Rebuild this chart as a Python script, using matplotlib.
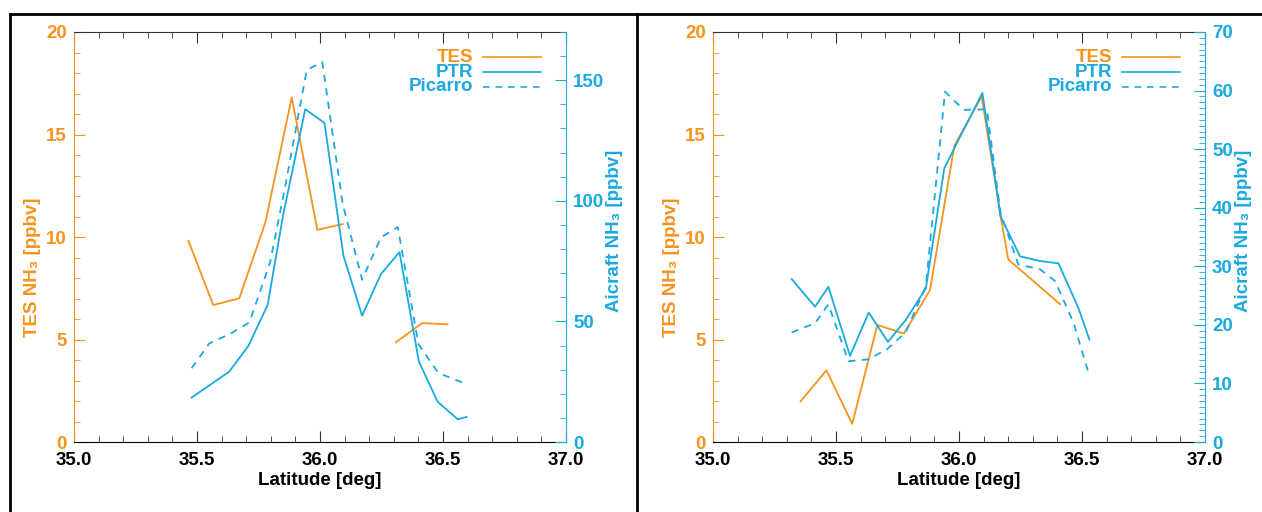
import matplotlib
matplotlib.use('Agg')
import matplotlib.pyplot as plt
from matplotlib.lines import Line2D
from matplotlib.ticker import MultipleLocator, FormatStrFormatter
import numpy as np

plt.rcParams['font.family'] = ['Liberation Sans', 'DejaVu Sans']
plt.rcParams['font.weight'] = 'bold'

ORANGE = '#F7931E'
BLUE = '#1AA9E1'

# ---- left panel data ----
tes_lat_a = [35.465, 35.566, 35.672, 35.778, 35.885, 35.989, 36.092, np.nan, 36.308, 36.415, 36.518]
tes_val_a = [9.81, 6.68, 7.01, 10.72, 16.81, 10.35, 10.63, np.nan, 4.86, 5.80, 5.74]
ptr_lat_a = [35.478, 35.566, 35.631, 35.709, 35.787, 35.851, 35.940, 36.018, 36.095, 36.171,
             36.248, 36.323, 36.402, 36.478, 36.560, 36.596]
ptr_val_a = [18.4, 24.6, 29.2, 39.9, 56.8, 94.6, 138.0, 132.3, 77.3, 52.4,
             69.7, 78.7, 33.3, 16.7, 9.4, 10.4]
pic_lat_a = [35.478, 35.550, 35.634, 35.713, 35.797, 35.858, 35.946, 36.009, 36.092, 36.171,
             36.248, 36.316, 36.400, 36.481, 36.583]
pic_val_a = [30.6, 40.9, 44.8, 49.6, 74.5, 105.7, 154.2, 157.6, 98.8, 67.3,
             84.9, 89.1, 40.6, 28.6, 24.5]

# ---- right panel data ----
tes_lat_b = [35.356, 35.461, 35.566, 35.668, 35.776, 35.882, 35.981, 36.092, 36.169, 36.200, 36.411]
tes_val_b = [1.98, 3.50, 0.88, 5.71, 5.29, 7.41, 14.45, 16.85, 11.0, 8.91, 6.72]
ptr_lat_b = [35.320, 35.415, 35.469, 35.557, 35.633, 35.711, 35.783, 35.865, 35.940, 35.991,
             36.095, 36.169, 36.248, 36.329, 36.404, 36.485, 36.530]
ptr_val_b = [27.8, 23.1, 26.5, 14.7, 22.1, 17.1, 20.8, 26.2, 46.7, 51.0,
             59.6, 38.5, 31.7, 30.9, 30.5, 22.9, 17.5]
pic_lat_b = [35.320, 35.415, 35.469, 35.550, 35.629, 35.706, 35.783, 35.865, 35.943, 36.020,
             36.113, 36.169, 36.241, 36.329, 36.390, 36.465, 36.530]
pic_val_b = [18.7, 20.3, 23.5, 13.8, 14.1, 15.8, 18.7, 26.6, 59.8, 56.7,
             56.8, 39.1, 30.3, 29.5, 27.5, 20.4, 11.3]

legend_names = ['TES', 'PTR', 'Picarro']

fig = plt.figure(figsize=(12.62, 5.12), dpi=100)


def panel(left, tes_lat, tes_val, ptr_lat, ptr_val, pic_lat, pic_val, rmax, rmajor, rminor, rlab_x):
    ax = fig.add_axes([left, 0.1367, 0.3899, 0.8008])
    ax2 = ax.twinx()
    ax.plot(tes_lat, tes_val, color=ORANGE, lw=1.3)
    ax2.plot(ptr_lat, ptr_val, color=BLUE, lw=1.3)
    ax2.plot(pic_lat, pic_val, color=BLUE, lw=1.3, ls=(0, (4, 3.5)))

    ax.set_xlim(35.0, 37.0)
    ax.set_ylim(0, 20)
    ax2.set_ylim(0, rmax)
    ax.xaxis.set_major_locator(MultipleLocator(0.5))
    ax.xaxis.set_minor_locator(MultipleLocator(0.1))
    ax.yaxis.set_major_locator(MultipleLocator(5))
    ax.yaxis.set_minor_locator(MultipleLocator(1))
    ax2.yaxis.set_major_locator(MultipleLocator(rmajor))
    ax2.yaxis.set_minor_locator(MultipleLocator(rminor))
    ax.xaxis.set_major_formatter(FormatStrFormatter('%.1f'))

    ax.spines['right'].set_visible(False)
    ax.spines['left'].set_color(ORANGE)
    ax.spines['top'].set_color('#333333')
    ax.spines['bottom'].set_color('black')
    for s in ['left', 'top', 'bottom']:
        ax2.spines[s].set_visible(False)
    ax2.spines['right'].set_color(BLUE)

    ax.tick_params(axis='x', which='both', direction='in', top=True, colors='#333333',
                   labelcolor='black', labelsize=13.5, pad=7)
    ax.tick_params(axis='x', which='major', length=8)
    ax.tick_params(axis='x', which='minor', length=4)
    ax.tick_params(axis='y', which='both', direction='in', colors=ORANGE,
                   labelsize=13.5, pad=5)
    ax.tick_params(axis='y', which='major', length=8)
    ax.tick_params(axis='y', which='minor', length=4)
    ax2.tick_params(axis='y', which='both', direction='in', colors=BLUE,
                    labelsize=13.5, pad=5)
    ax2.tick_params(axis='y', which='major', length=8)
    ax2.tick_params(axis='y', which='minor', length=4)

    ax.set_xlabel('Latitude [deg]', fontsize=13.5, fontweight='bold', labelpad=2)
    ax.set_ylabel('TES NH\u2083 [ppbv]', fontsize=13.5, fontweight='bold', color=ORANGE)
    ax2.set_ylabel('Aicraft NH\u2083 [ppbv]', fontsize=13.5, fontweight='bold', color=BLUE)
    ax.yaxis.set_label_coords(-0.068, 0.427)
    ax2.yaxis.set_label_coords(rlab_x, 0.515)

    # legend, text right-aligned with line samples on its right
    styles = [(ORANGE, '-'), (BLUE, '-'), (BLUE, (0, (4, 3.5)))]
    rows = [0.939, 0.902, 0.866]
    for name, (c, ls), y in zip(legend_names, styles, rows):
        ax.text(0.811, y, name, transform=ax.transAxes, ha='right', va='center',
                color=ORANGE if name == 'TES' else BLUE, fontsize=13.5, fontweight='bold')
        ax.add_line(Line2D([0.831, 0.95], [y, y], transform=ax.transAxes, color=c,
                           lw=1.2, ls=ls))
    return ax, ax2


panel(74 / 1262, tes_lat_a, tes_val_a, ptr_lat_a, ptr_val_a, pic_lat_a, pic_val_a, 170, 50, 10, 1.081)
panel(713 / 1262, tes_lat_b, tes_val_b, ptr_lat_b, ptr_val_b, pic_lat_b, pic_val_b, 70, 10, 1, 1.061)

# frame lines around the panels
ytop = 1 - 13.5 / 512
fig.add_artist(Line2D([10 / 1262, 1.0], [ytop, ytop], color='black', lw=2))
fig.add_artist(Line2D([10 / 1262, 10 / 1262], [0, ytop], color='black', lw=2))
fig.add_artist(Line2D([637 / 1262, 637 / 1262], [0, ytop], color='black', lw=2))

fig.savefig('out.png', dpi=100)
